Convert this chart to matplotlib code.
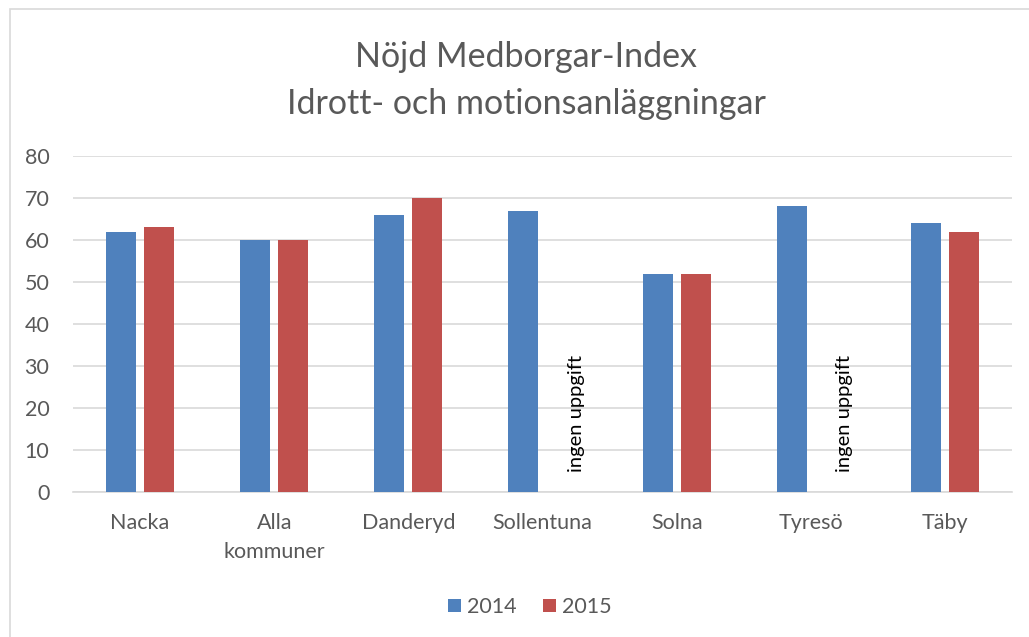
import matplotlib.pyplot as plt
import numpy as np
from matplotlib.patches import Rectangle

kommuner = ['Nacka', 'Alla\nkommuner', 'Danderyd', 'Sollentuna', 'Solna', 'Tyresö', 'Täby']
varden_2014 = [62, 60, 66, 67, 52, 68, 64]
varden_2015 = [63, 60, 70, np.nan, 52, np.nan, 62]
saknas_text = 'ingen uppgift'

plt.rcParams['font.family'] = ['Lato', 'DejaVu Sans']

fig = plt.figure(figsize=(10.29, 6.37), dpi=100)
ax = fig.add_axes([73 / 1029, 1 - 492 / 637, 939 / 1029, 336 / 637])

# ram runt hela diagrammet
fig.patches.append(Rectangle((10 / 1029, -0.05), 1.1, 1 - 9 / 637 + 0.05,
                             transform=fig.transFigure, fill=False,
                             edgecolor='#D9D9D9', linewidth=1.2))

x = np.arange(len(kommuner))
bredd = 0.224
ax.bar(x - 0.142, varden_2014, bredd, color='#4F81BD', label='2014', zorder=3)
ax.bar(x + 0.142, varden_2015, bredd, color='#C0504D', label='2015', zorder=3)

for i, v in enumerate(varden_2015):
    if np.isnan(v):
        ax.text(x[i] + 0.25, 18.7, saknas_text, rotation=90, ha='center', va='center',
                fontsize=14.5, color='black')

ax.set_xlim(-0.5, len(kommuner) - 0.5)
ax.set_ylim(0, 80)
ax.set_yticks(range(0, 81, 10))
ax.set_xticks(x)
ax.set_xticklabels(kommuner, fontsize=15.5, color='#595959', linespacing=1.55)
ax.tick_params(axis='y', labelsize=15.5, labelcolor='#595959', length=0, pad=17)
ax.tick_params(axis='x', length=0, pad=15)
ax.grid(axis='y', color='#D9D9D9', linewidth=1.2, zorder=0)
for s in ['top', 'right', 'left']:
    ax.spines[s].set_visible(False)
ax.spines['bottom'].set_color('#D9D9D9')
ax.spines['bottom'].set_linewidth(1.2)

fig.text(526 / 1029, 1 - 57 / 637, 'Nöjd Medborgar-Index', ha='center', va='center',
         fontsize=24.5, color='#595959')
fig.text(526 / 1029, 1 - 104 / 637, 'Idrott- och motionsanläggningar', ha='center', va='center',
         fontsize=24.5, color='#595959')

fig.legend(loc='center', bbox_to_anchor=(530 / 1029, 1 - 607 / 637), ncol=2, frameon=False,
           fontsize=15.5, labelcolor='#595959', handlelength=0.6, handleheight=0.6,
           handletextpad=0.3, columnspacing=1.2)

fig.savefig('out.png', dpi=100)
